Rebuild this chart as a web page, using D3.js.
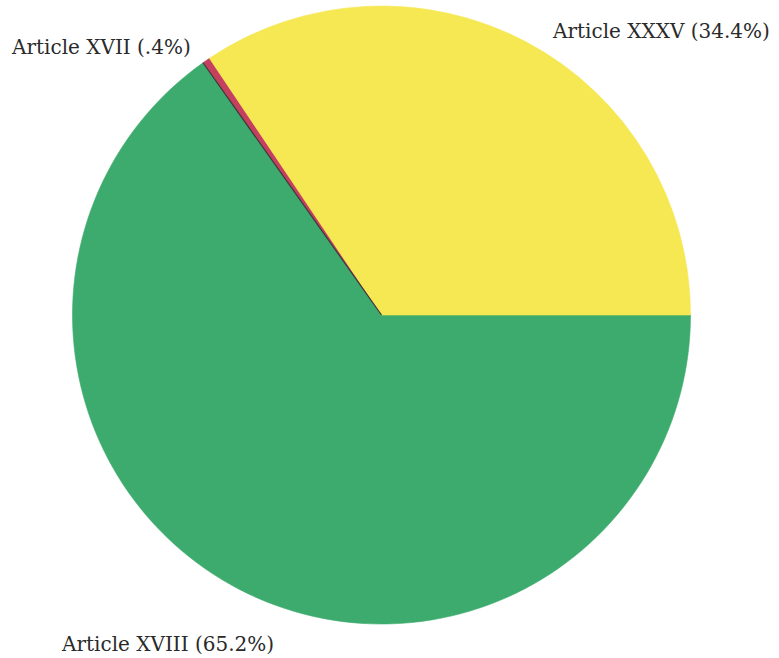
<!DOCTYPE html>
<html>
<head>
<meta charset="utf-8">
<script src="https://cdn.jsdelivr.net/npm/d3@7"></script>
<style>
  html, body { margin: 0; padding: 0; background: #ffffff; }
  svg { display: block; }
  text { font-family: "DejaVu Serif", "Liberation Serif", serif; fill: #2a2a2a; }
</style>
</head>
<body>
<svg id="chart" width="779" height="658"></svg>
<script>
// Share of articles, in percent
const categories = ["Article XVIII", "Article XVII", "Article XXXV"];
const shares = [65.2, 0.4, 34.4];
const shareLabels = ["65.2%", ".4%", "34.4%"];
const sliceColors = ["#3cab6d", "#c5405f", "#f5e853"];

const svg = d3.select("#chart");
const cx = 381.5, cy = 315, radius = 309;

const pie = d3.pie()
  .sort(null)
  .value(d => d)
  .startAngle(Math.PI / 2)
  .endAngle(Math.PI / 2 + 2 * Math.PI);

const arcs = pie(shares);
const arc = d3.arc().innerRadius(0).outerRadius(radius);

const g = svg.append("g").attr("transform", `translate(${cx},${cy})`);

g.selectAll("path.slice")
  .data(arcs)
  .enter()
  .append("path")
  .attr("class", "slice")
  .attr("d", arc)
  .attr("fill", (d, i) => sliceColors[i])
  .attr("stroke", (d, i) => sliceColors[i])
  .attr("stroke-width", 0.6);

// dark seam where the green slice meets the red one
const seam = arcs[0].endAngle;
g.append("line")
  .attr("x1", 0).attr("y1", 0)
  .attr("x2", radius * Math.sin(seam))
  .attr("y2", -radius * Math.cos(seam))
  .attr("stroke", "#3a3a3a")
  .attr("stroke-width", 1.2);

// slice labels
const labelPos = [
  { x: 62, y: 651 },
  { x: 12, y: 54 },
  { x: 553, y: 38 }
];
svg.selectAll("text.label")
  .data(categories)
  .enter()
  .append("text")
  .attr("class", "label")
  .attr("x", (d, i) => labelPos[i].x)
  .attr("y", (d, i) => labelPos[i].y)
  .attr("font-size", 20)
  .text((d, i) => `${d} (${shareLabels[i]})`);
</script>
</body>
</html>
